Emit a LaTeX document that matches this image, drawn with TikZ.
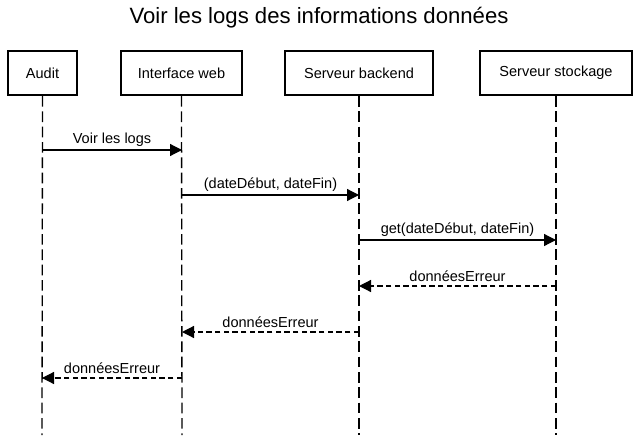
\documentclass[tikz,border=0pt]{standalone}
\usepackage{fontspec}
\setmainfont{Liberation Sans}
\usetikzlibrary{arrows.meta}
\begin{document}
\begin{tikzpicture}[x=0.75pt,y=-0.75pt,
  actor/.style={draw,line width=1.5pt,minimum height=33pt,inner sep=0pt,font=\fontsize{10.9}{12}\selectfont,fill=white},
  life/.style={line width=1pt,dash pattern=on 8pt off 3.5pt},
  msg/.style={line width=0.9pt,-{Triangle[length=9pt,width=9pt]}},
  ret/.style={msg,dash pattern=on 4pt off 2.5pt},
  lbl/.style={font=\fontsize{10.9}{12}\selectfont,above=1.5pt,inner sep=1pt}]
\useasboundingbox (0,0) rectangle (638,435);
\node[font=\fontsize{16.6}{19}\selectfont] (title) at (319,18) {Voir les logs des informations données};
\node[actor,minimum width=52pt] (a) at (42.5,73) {Audit};
\node[actor,minimum width=91pt] (w) at (181.5,73) {Interface web};
\node[actor,minimum width=111pt] (b) at (359,73) {Serveur backend};
\node[actor,minimum width=114pt] (s) at (556,73) {Serveur stockage};
\coordinate (ae) at (42,435);
\coordinate (we) at (182,435);
\coordinate (be) at (359,435);
\coordinate (se) at (556,435);
\draw[life] (a.south) -- (ae);
\draw[life] (w.south) -- (we);
\draw[life] (b.south) -- (be);
\draw[life] (s.south) -- (se);
\foreach \n/\x in {a/42,w/182,b/359,s/556}{
  \foreach \y in {150,195,240,286,332,378}{\coordinate (\n\y) at (\x,\y);}
}
\draw[msg] (a150) -- node[lbl]{Voir les logs} (w150);
\draw[msg] (w195) -- node[lbl]{(dateDébut, dateFin)} (b195);
\draw[msg] (b240) -- node[lbl]{get(dateDébut, dateFin)} (s240);
\draw[ret] (s286) -- node[lbl]{donnéesErreur} (b286);
\draw[ret] (b332) -- node[lbl]{donnéesErreur} (w332);
\draw[ret] (w378) -- node[lbl]{donnéesErreur} (a378);
\end{tikzpicture}
\end{document}
